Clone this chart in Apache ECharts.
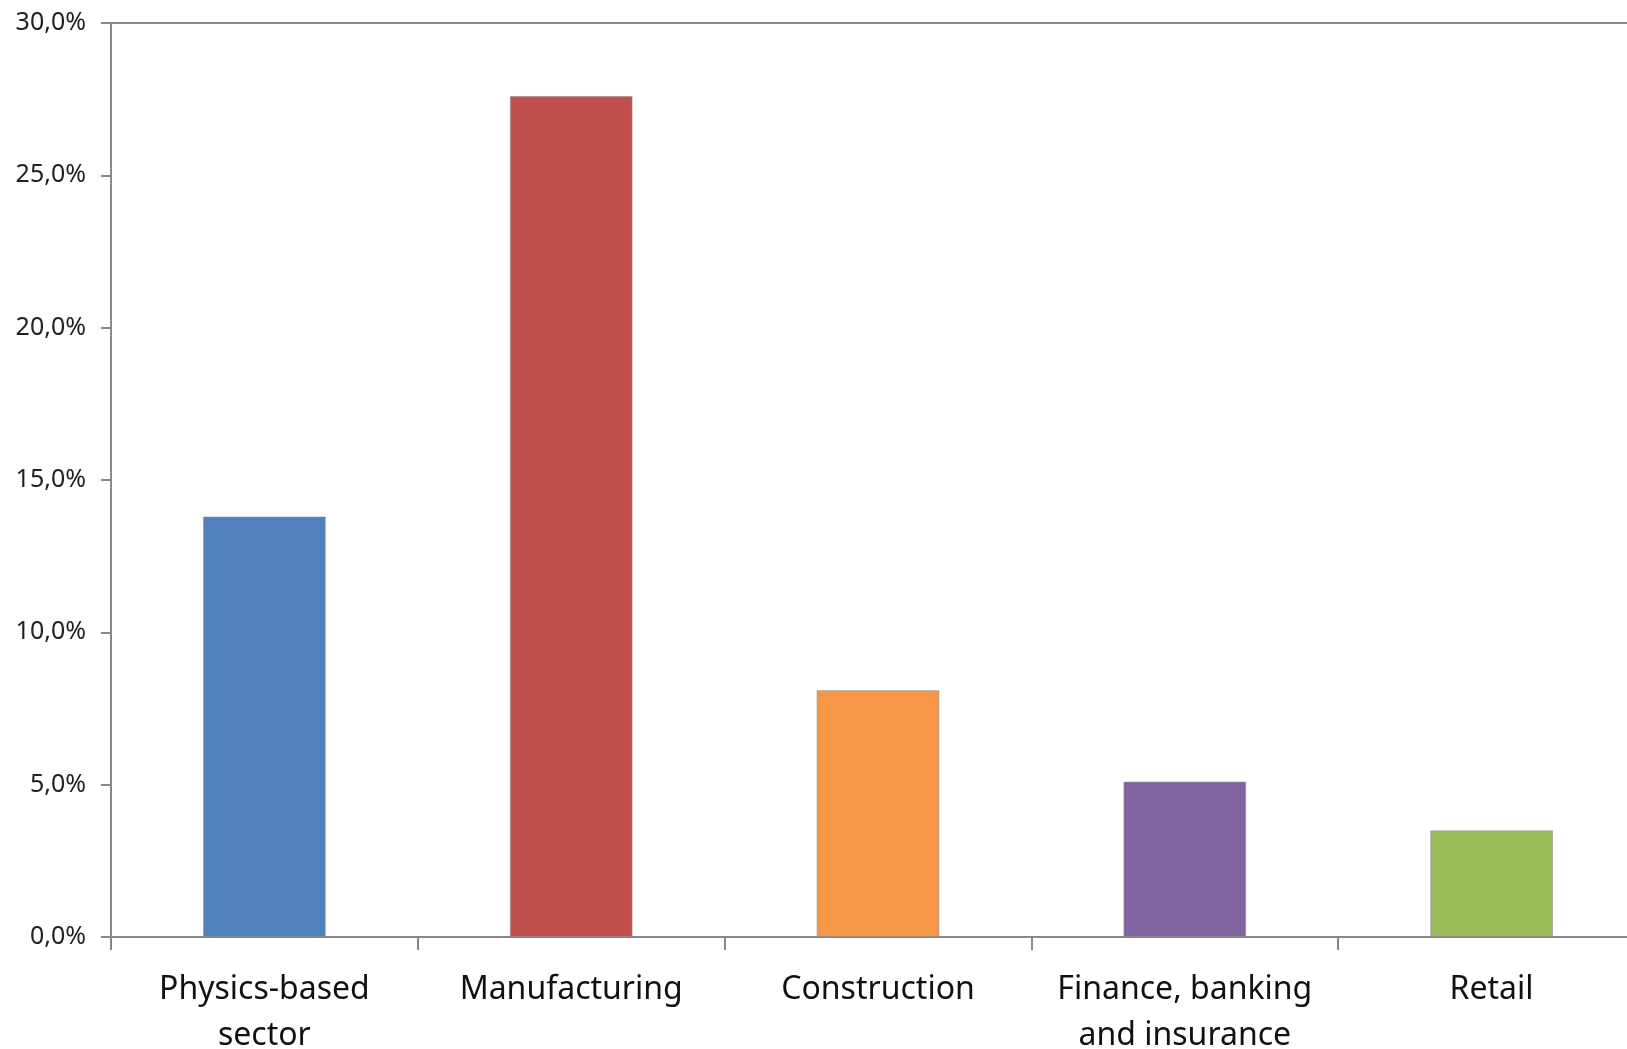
<!DOCTYPE html>
<html>
<head>
<meta charset="utf-8">
<script src="https://cdn.jsdelivr.net/npm/echarts@6/dist/echarts.min.js"></script>
<style>
  html, body { margin: 0; padding: 0; background: #fff; overflow: hidden; }
  #chart { width: 1627px; height: 1049px; }
</style>
</head>
<body>
<div id="chart"></div>
<script>
// sectors and their shares (%)
var categories = ['Physics-based\nsector', 'Manufacturing', 'Construction', 'Finance, banking\nand insurance', 'Retail']
var shares = [13.8, 27.6, 8.1, 5.1, 3.5]
var barColors = ['#4F81BD', '#C0504D', '#F79646', '#8064A2', '#9BBB59']
var yTicks = [0, 5, 10, 15, 20, 25, 30]

var axisGray = '#888888'
var chart = echarts.init(document.getElementById('chart'))
chart.setOption({
  animation: false,
  grid: {
    left: 111,
    top: 23,
    right: -18,
    bottom: 112,
    outerBoundsMode: 'none',
    containLabel: false
  },
  xAxis: [
    {
      type: 'category',
      data: categories,
      axisLine: { lineStyle: { color: axisGray, width: 2 } },
      axisTick: { show: true, length: 13, lineStyle: { color: axisGray, width: 2 } },
      axisLabel: {
        interval: 0,
        margin: 30,
        fontFamily: 'Noto Sans',
        fontSize: 32,
        lineHeight: 46,
        color: '#111'
      }
    },
    {
      type: 'category',
      position: 'top',
      data: categories,
      axisLine: { lineStyle: { color: axisGray, width: 2 } },
      axisTick: { show: false },
      axisLabel: { show: false }
    }
  ],
  yAxis: {
    type: 'value',
    min: yTicks[0],
    max: yTicks[yTicks.length - 1],
    interval: 5,
    splitLine: { show: false },
    axisLine: { show: true, lineStyle: { color: axisGray, width: 2 } },
    axisTick: { show: true, length: 10, lineStyle: { color: axisGray, width: 2 } },
    axisLabel: {
      margin: 25,
      fontFamily: 'Noto Sans',
      fontSize: 25,
      color: '#222',
      formatter: function (v) {
        return v.toFixed(1).replace('.', ',') + '%'
      }
    }
  },
  series: [
    {
      type: 'bar',
      data: shares.map(function (v, i) {
        return { value: v, itemStyle: { color: barColors[i] } }
      }),
      barWidth: '40%',
      itemStyle: { borderColor: 'rgba(140,140,140,0.6)', borderWidth: 1 }
    }
  ]
})
</script>
</body>
</html>
